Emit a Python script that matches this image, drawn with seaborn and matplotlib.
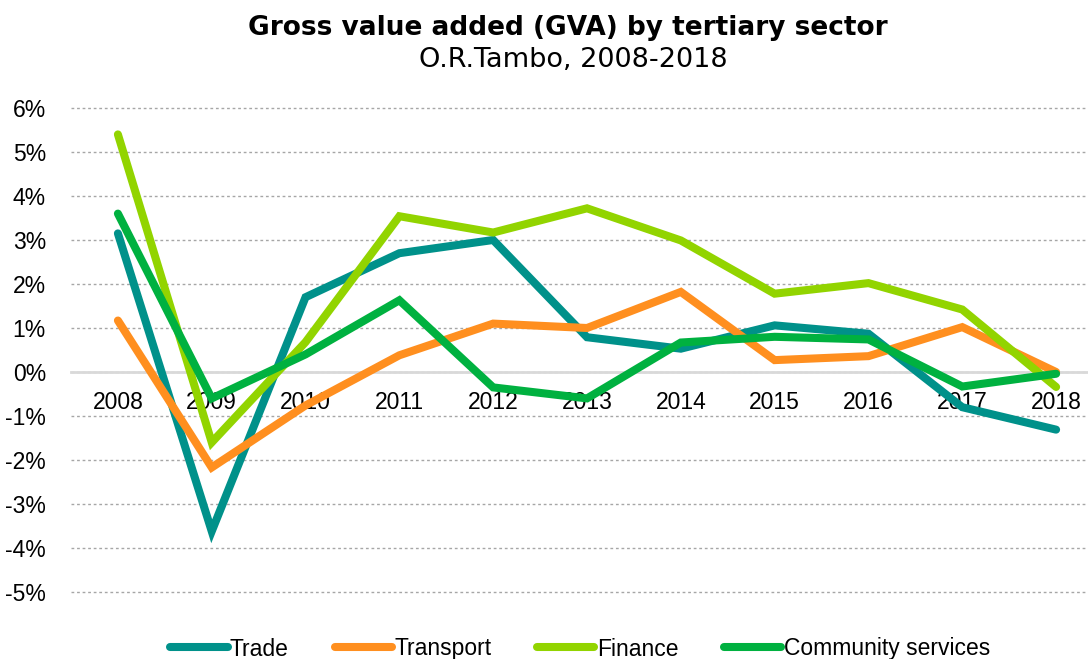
import seaborn as sns
import matplotlib.pyplot as plt
import pandas as pd
from matplotlib.ticker import FixedLocator, NullFormatter, FuncFormatter

# GVA growth by tertiary sector, O.R.Tambo (values in %)
years = ['2008', '2009', '2010', '2011', '2012', '2013', '2014', '2015', '2016', '2017', '2018']
trade = [3.15, -3.62, 1.70, 2.70, 3.00, 0.79, 0.53, 1.06, 0.87, -0.80, -1.31]
transport = [1.17, -2.17, -0.76, 0.38, 1.10, 1.00, 1.82, 0.27, 0.36, 1.02, 0.00]
finance = [5.40, -1.60, 0.68, 3.54, 3.17, 3.72, 2.99, 1.78, 2.02, 1.42, -0.34]
community = [3.60, -0.60, 0.40, 1.63, -0.35, -0.60, 0.67, 0.80, 0.74, -0.33, -0.04]

sectors = ['Trade', 'Transport', 'Finance', 'Community services']
colors = ['#00918A', '#FF8F1F', '#92D400', '#00B140']

df = pd.DataFrame({'Trade': trade, 'Transport': transport, 'Finance': finance,
                   'Community services': community})
df['pos'] = range(len(years))
long = df.melt(id_vars='pos', var_name='sector', value_name='gva')

sns.set_style('white')
plt.rcParams['font.family'] = ['Liberation Sans', 'DejaVu Sans']
plt.rcParams['text.color'] = 'black'
plt.rcParams['xtick.color'] = 'black'
plt.rcParams['ytick.color'] = 'black'

fig = plt.figure(figsize=(10.88, 6.59), dpi=100)
ax = fig.add_axes([71 / 1088, 1 - 592 / 659, 1032 / 1088, 484 / 659])

sns.lineplot(data=long, x='pos', y='gva', hue='sector', hue_order=sectors,
             palette=colors, linewidth=5.8, ax=ax, legend=True)
for ln in ax.get_lines():
    ln.set_solid_capstyle('round')
    ln.set_solid_joinstyle('miter')

ax.set_xlim(-0.5, len(years) - 0.5)
ax.set_ylim(-5, 6)
ax.set_yticks(range(-5, 7))
ax.yaxis.set_major_formatter(FuncFormatter(lambda v, p: f'{int(v)}%'))
ax.yaxis.grid(True, linestyle=(0, (2, 2)), color='#A6A6A6', linewidth=1)
for gl in ax.get_ygridlines():
    gl.set_clip_on(False)
ax.tick_params(axis='y', length=0, pad=18, labelsize=16.5, labelcolor='black')

for s in ['top', 'right', 'left']:
    ax.spines[s].set_visible(False)
ax.spines['bottom'].set_position(('data', 0))
ax.spines['bottom'].set_color('#D9D9D9')
ax.spines['bottom'].set_linewidth(2)
ax.spines['bottom'].set_zorder(1)

# category boundary ticks on the zero line, labels at the centres
ax.xaxis.set_major_locator(FixedLocator([i - 0.5 for i in range(len(years) + 1)]))
ax.xaxis.set_major_formatter(NullFormatter())
ax.xaxis.set_minor_locator(FixedLocator(range(len(years))))
ax.set_xticklabels(years, minor=True)
ax.tick_params(axis='x', which='major', direction='inout', length=16, width=1.5,
               color='#D9D9D9')
ax.tick_params(axis='x', which='minor', length=0, pad=14, labelsize=16.5,
               labelcolor='black')
ax.set_xlabel('')
ax.set_ylabel('')

handles, labels = ax.get_legend_handles_labels()
fig.legend(handles, labels, loc='center', bbox_to_anchor=(580 / 1088, 1 - 649 / 659),
           ncol=4, frameon=False, fontsize=16.5, handlelength=2.5, handletextpad=0.1,
           columnspacing=2.0)
ax.get_legend().remove()

fig.text(568 / 1088, 1 - 28 / 659, 'Gross value added (GVA) by tertiary sector',
         ha='center', va='center', fontsize=19, fontweight='bold', family='DejaVu Sans')
fig.text(573 / 1088, 1 - 60 / 659, 'O.R.Tambo, 2008-2018',
         ha='center', va='center', fontsize=19.5, family='DejaVu Sans')

fig.savefig('out.png', dpi=100)
